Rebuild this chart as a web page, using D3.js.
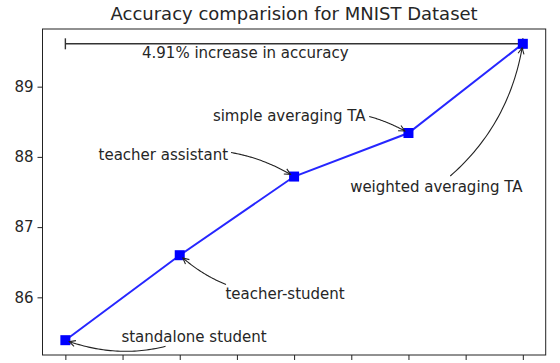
<!DOCTYPE html>
<html>
<head>
<meta charset="utf-8">
<script src="https://cdn.jsdelivr.net/npm/d3@7"></script>
<style>
  body { margin: 0; background: #fff; }
  text { font-family: "DejaVu Sans", sans-serif; fill: #262626; }
</style>
</head>
<body>
<svg id="chart" width="560" height="363"></svg>
<script>
// Chart data
const methods = ["standalone student", "teacher-student", "teacher assistant", "simple averaging TA", "weighted averaging TA"];
const accuracy = [85.39, 86.60, 87.72, 88.34, 89.61];

// Annotation text anchors (data coords) and arc bend of each arrow
const labelX = [0.49, 1.40, 0.29, 1.29, 2.49];
const labelY = [85.37, 85.97, 87.96, 88.51, 87.50];
const arcRad = [-0.2, -0.2, -0.2, -0.2, 0.2];

const yTicks = [86, 87, 88, 89];
const xTicks = [0, 0.5, 1, 1.5, 2, 2.5, 3, 3.5, 4];

const titleText = "Accuracy comparision for MNIST Dataset";
const gainText = "4.91% increase in accuracy";
const gainX = 0.67, gainY = 89.41;

// Dimensions
const width = 560, height = 363;
const margin = {top: 29, right: 14.3, bottom: 8, left: 42.5};
const labelSize = "15px";

const svg = d3.select("#chart");

// Scales with matplotlib-like 5% padding
const xPad = (methods.length - 1) * 0.05;
const xScale = d3.scaleLinear()
  .domain([-xPad, methods.length - 1 + xPad])
  .range([margin.left, width - margin.right]);

const yMin = d3.min(accuracy), yMax = d3.max(accuracy);
const yPad = (yMax - yMin) * 0.05;
const yScale = d3.scaleLinear()
  .domain([yMin - yPad, yMax + yPad])
  .range([height - margin.bottom, margin.top]);

// Arrow head marker
svg.append("defs").append("marker")
  .attr("id", "head")
  .attr("viewBox", "-7 -4 8 8")
  .attr("refX", 0)
  .attr("refY", 0)
  .attr("markerWidth", 8)
  .attr("markerHeight", 8)
  .attr("markerUnits", "userSpaceOnUse")
  .attr("orient", "auto")
  .append("path")
  .attr("d", "M-6,-3L0,0L-6,3")
  .attr("fill", "none")
  .attr("stroke", "#222")
  .attr("stroke-width", 1.1);

// Axes
svg.append("g")
  .attr("transform", `translate(0,${height - margin.bottom})`)
  .call(d3.axisBottom(xScale).tickValues(xTicks).tickSize(5).tickFormat(""))
  .call(g => g.select(".domain").remove())
  .call(g => g.selectAll(".tick line").attr("stroke", "#222"));

svg.append("g")
  .attr("transform", `translate(${margin.left},0)`)
  .call(d3.axisLeft(yScale).tickValues(yTicks).tickSize(5).tickPadding(4).tickFormat(d3.format("d")))
  .call(g => g.select(".domain").remove())
  .call(g => g.selectAll(".tick line").attr("stroke", "#222"))
  .call(g => g.selectAll(".tick text")
    .attr("fill", "#262626")
    .style("font-family", "DejaVu Sans")
    .style("font-size", labelSize));

// Frame
svg.append("rect")
  .attr("x", margin.left)
  .attr("y", margin.top)
  .attr("width", width - margin.left - margin.right)
  .attr("height", height - margin.top - margin.bottom)
  .attr("fill", "none")
  .attr("stroke", "#222")
  .attr("stroke-width", 1);

// Title
svg.append("text")
  .attr("x", (margin.left + width - margin.right) / 2)
  .attr("y", 20)
  .attr("text-anchor", "middle")
  .style("font-size", "18px")
  .text(titleText);

// Gain bracket from first to last model
const gy = yScale(yMax);
const gx0 = xScale(0), gx1 = xScale(methods.length - 1);
const bracket = svg.append("g").attr("stroke", "#333").attr("stroke-width", 1.4);
bracket.append("line").attr("x1", gx0).attr("x2", gx1).attr("y1", gy).attr("y2", gy);
[gx0, gx1].forEach(x => {
  bracket.append("line").attr("x1", x).attr("x2", x).attr("y1", gy - 5.5).attr("y2", gy + 5.5);
});

svg.append("text")
  .attr("x", xScale(gainX))
  .attr("y", yScale(gainY))
  .style("font-size", labelSize)
  .text(gainText);

// Accuracy line with square markers
const line = d3.line()
  .x((d, i) => xScale(i))
  .y(d => yScale(d));

svg.append("path")
  .datum(accuracy)
  .attr("fill", "none")
  .attr("stroke", "#0000ff")
  .attr("stroke-opacity", 0.85)
  .attr("stroke-width", 2)
  .attr("d", line);

svg.selectAll(".pt")
  .data(accuracy)
  .join("rect")
  .attr("class", "pt")
  .attr("x", (d, i) => xScale(i) - 5)
  .attr("y", d => yScale(d) - 5)
  .attr("width", 10)
  .attr("height", 10)
  .attr("fill", "#0000ff");

// Annotations: text + arc3-style curved arrow clipped at the text box
const labels = svg.append("g");
methods.forEach((name, i) => {
  const t = labels.append("text")
    .attr("x", xScale(labelX[i]))
    .attr("y", yScale(labelY[i]))
    .style("font-size", labelSize)
    .text(name);
  const bb = t.node().getBBox();

  const A = [bb.x + bb.width / 2, bb.y + bb.height / 2];
  const B = [xScale(i), yScale(accuracy[i])];
  const dx = B[0] - A[0], dy = B[1] - A[1];
  const C = [(A[0] + B[0]) / 2 - arcRad[i] * dy, (A[1] + B[1]) / 2 + arcRad[i] * dx];

  const at = s => [
    (1 - s) * (1 - s) * A[0] + 2 * (1 - s) * s * C[0] + s * s * B[0],
    (1 - s) * (1 - s) * A[1] + 2 * (1 - s) * s * C[1] + s * s * B[1]
  ];
  const inside = p => p[0] >= bb.x && p[0] <= bb.x + bb.width && p[1] >= bb.y && p[1] <= bb.y + bb.height;

  // find where curve leaves the text box
  let lo = 0, hi = 1;
  for (let k = 0; k < 30; k++) {
    const mid = (lo + hi) / 2;
    if (inside(at(mid))) lo = mid; else hi = mid;
  }
  const arcLen = d3.sum(d3.range(40), k => {
    const p = at(k / 40), q = at((k + 1) / 40);
    return Math.hypot(q[0] - p[0], q[1] - p[1]);
  });
  const t1 = 1 - 4 / arcLen;
  const t0 = Math.min(hi + 3 / arcLen, t1 - 0.05);

  const pts = d3.range(0, 41).map(k => at(t0 + (t1 - t0) * k / 40));
  labels.append("path")
    .attr("d", d3.line()(pts))
    .attr("fill", "none")
    .attr("stroke", "#222")
    .attr("stroke-width", 1.1)
    .attr("marker-end", "url(#head)");
});
</script>
</body>
</html>
